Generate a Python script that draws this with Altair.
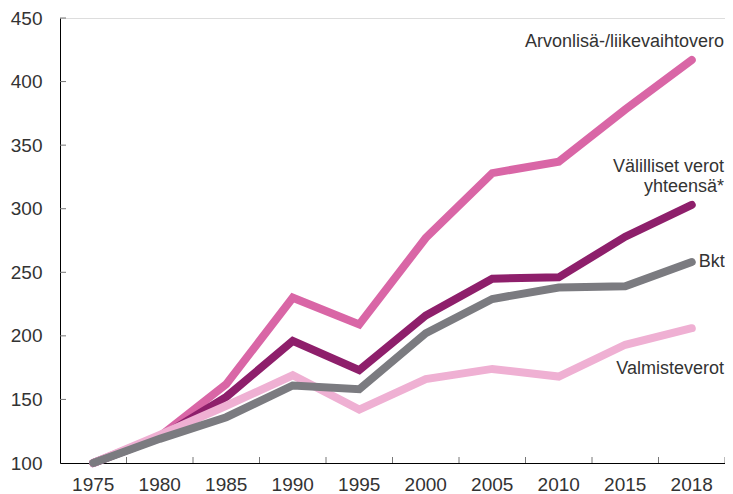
import altair as alt
import pandas as pd

years = ["1975", "1980", "1985", "1990", "1995", "2000", "2005", "2010", "2015", "2018"]
arvonlisa = [100, 121, 162, 230, 209, 277, 328, 337, 378, 417]
valilliset = [100, 120, 152, 196, 173, 216, 245, 246, 278, 303]
valmiste = [100, 122, 145, 169, 142, 166, 174, 168, 193, 206]
bkt = [100, 119, 136, 161, 158, 202, 229, 238, 239, 258]

series_names = ["Arvonlisä-/liikevaihtovero", "Välilliset verot yhteensä*", "Valmisteverot", "Bkt"]
series_values = [arvonlisa, valilliset, valmiste, bkt]
series_colors = ["#d966a6", "#8e1f6b", "#efb0d3", "#7b7b80"]

y_ticks = [100, 150, 200, 250, 300, 350, 400, 450]

label_right_texts = ["Arvonlisä-/liikevaihtovero", "Välilliset verot", "yhteensä*", "Valmisteverot"]
label_right_y = [431, 333, 317, 174]
label_left_texts = ["Bkt"]
label_left_y = [258]

FONT = "Liberation Sans"
TEXT_COLOR = "#333333"
W, H = 665, 445

xscale = alt.Scale(type="band", domain=years, paddingInner=0, paddingOuter=0)
yscale = alt.Scale(domain=[100, 450], nice=False, zero=False)

x_axis = alt.Axis(title=None, labelAngle=0, ticks=False, labelFontSize=19, labelColor=TEXT_COLOR,
                  labelFont=FONT, labelPadding=12, domainColor="#000000", grid=False)
y_axis = alt.Axis(title=None, values=y_ticks, ticks=False, labelFontSize=19, labelColor=TEXT_COLOR,
                  labelFont=FONT, labelPadding=18, domainColor="#000000", grid=False)


def X(band=0.5):
    return alt.X("year:O", scale=xscale, axis=x_axis, bandPosition=band)


def Y():
    return alt.Y("value:Q", scale=yscale, axis=y_axis)


layers = []
for name, vals, col in zip(series_names, series_values, series_colors):
    df = pd.DataFrame({"year": years, "value": vals, "series": name})
    layers.append(
        alt.Chart(df).mark_line(color=col, strokeWidth=8, strokeCap="round", strokeJoin="miter")
        .encode(x=X(), y=Y())
    )

# inward tick marks
xt_inner = pd.DataFrame({"year": years[1:]})
xt_last = pd.DataFrame({"year": years[-1:]})
yt = pd.DataFrame({"value": y_ticks[1:]})

tick_color = "#777777"
layers.append(
    alt.Chart(xt_inner).mark_rule(color=tick_color, strokeWidth=1).encode(
        x=X(0), y=alt.value(H - 6), y2=alt.value(H))
)
layers.append(
    alt.Chart(xt_last).mark_rule(color=tick_color, strokeWidth=1).encode(
        x=X(1), y=alt.value(H - 6), y2=alt.value(H))
)
layers.append(
    alt.Chart(yt).mark_rule(color=tick_color, strokeWidth=1).encode(
        y=Y(), x=alt.value(0), x2=alt.value(6))
)

# labels
lr = pd.DataFrame({"year": [years[-1]] * len(label_right_texts), "value": label_right_y, "t": label_right_texts})
ll = pd.DataFrame({"year": [years[-1]] * len(label_left_texts), "value": label_left_y, "t": label_left_texts})
layers.append(
    alt.Chart(lr).mark_text(align="right", baseline="middle", fontSize=18, font=FONT, color=TEXT_COLOR, dx=-1)
    .encode(x=X(1), y=Y(), text="t:N")
)
layers.append(
    alt.Chart(ll).mark_text(align="left", baseline="middle", fontSize=18, font=FONT, color=TEXT_COLOR, dx=7)
    .encode(x=X(0.5), y=Y(), text="t:N")
)

chart = alt.layer(*layers).properties(
    width=W, height=H,
    autosize=alt.AutoSizeParams(type="none"),
    padding={"left": 52, "top": 10, "right": 0, "bottom": 30},
).configure_view(stroke=None).configure(background="white")

chart.save("out.html", embed_options={"renderer": "svg", "actions": False})
